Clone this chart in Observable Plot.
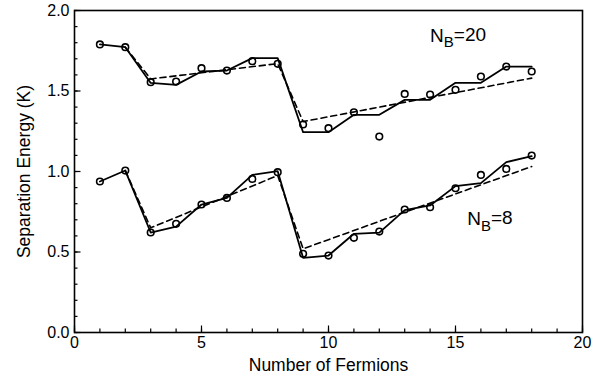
<!DOCTYPE html>
<html><head><meta charset="utf-8">
<script src="https://cdn.jsdelivr.net/npm/d3@7"></script>
<script src="https://cdn.jsdelivr.net/npm/@observablehq/plot@0.6"></script>
<style>body{margin:0;background:#fff}</style>
</head><body><div id="chart"></div>
<script>
const fermions = [1,2,3,4,5,6,7,8,9,10,11,12,13,14,15,16,17,18];
// N_B = 20
const nb20Data = [1.789,1.772,1.555,1.559,1.642,1.627,1.685,1.669,1.292,1.269,1.368,1.217,1.482,1.478,1.507,1.590,1.652,1.621];
const nb20Calc = [1.789,1.772,1.550,1.538,1.621,1.627,1.704,1.704,1.244,1.244,1.352,1.352,1.445,1.445,1.551,1.551,1.652,1.652];
const fitX = [2,3,8,9,18];
const nb20Fit = [1.772,1.575,1.670,1.310,1.580];
// N_B = 8
const nb8Data = [0.938,1.006,0.621,0.675,0.795,0.836,0.954,0.996,0.489,0.478,0.588,0.627,0.764,0.778,0.896,0.979,1.016,1.099];
const nb8Calc = [0.938,1.006,0.621,0.658,0.795,0.836,0.979,1.002,0.464,0.478,0.613,0.620,0.760,0.789,0.909,0.928,1.058,1.095];
const nb8Fit = [1.006,0.650,0.975,0.520,1.031];
// labels
const labelNums = ["20","8"];
const labelX = [14.0,15.46];
const labelY = [1.803,0.665];
const xMajor = [0,5,10,15,20];
const yMajor = [0,0.5,1,1.5,2];
const xTitle = "Number of Fermions";
const yTitle = "Separation Energy (K)";

const pts = fermions.flatMap((f,i)=>[{x:f,y:nb20Data[i],s:"20"},{x:f,y:nb8Data[i],s:"8"}]);
const calc = fermions.flatMap((f,i)=>[{x:f,y:nb20Calc[i],s:"20"},{x:f,y:nb8Calc[i],s:"8"}]);
const fit = fitX.flatMap((f,i)=>[{x:f,y:nb20Fit[i],s:"20"},{x:f,y:nb8Fit[i],s:"8"}]);
const labels = labelNums.map((n,i)=>({x:labelX[i],y:labelY[i],n}));

const font = "'Liberation Sans', Arial, Helvetica, sans-serif";
const chart = Plot.plot({
  width: 599, height: 378,
  marginLeft: 74, marginRight: 17, marginTop: 10, marginBottom: 46,
  style: {fontFamily: font, fontSize: "16px", color: "#000", background: "#fff"},
  x: {domain: [0,20]},
  y: {domain: [0,2]},
  marks: [
    Plot.axisX({ticks: d3.range(0,21), tickSize: -3.5, text: null, label: null, strokeWidth: 1.2}),
    Plot.axisX({ticks: xMajor, tickSize: -6.5, text: null, label: null, strokeWidth: 1.2}),
    Plot.axisX({ticks: xMajor, tickSize: 0, tickPadding: 4, tickFormat: d3.format("d"), fontSize: 16, label: null}),
    Plot.axisY({ticks: d3.range(0,2.01,0.1), tickSize: -3.5, text: null, label: null, strokeWidth: 1.2}),
    Plot.axisY({ticks: yMajor, tickSize: 0, tickPadding: 5, tickFormat: d3.format(".1f"), fontSize: 16, label: null}),
    Plot.axisY({ticks: yMajor, tickSize: -6.5, text: null, label: null, strokeWidth: 1.2}),
    Plot.text([xTitle], {frameAnchor: "bottom", text: d => d, dy: 38, lineAnchor: "bottom", fontSize: 17.5}),
    Plot.text([yTitle], {frameAnchor: "left", text: d => d, dx: -50, rotate: -90, textAnchor: "middle", lineAnchor: "middle", fontSize: 17.5}),
    Plot.frame({stroke: "#000", strokeWidth: 1.6}),
    Plot.line(calc, {x: "x", y: "y", z: "s", stroke: "#000", strokeWidth: 1.8}),
    Plot.line(fit, {x: "x", y: "y", z: "s", stroke: "#000", strokeWidth: 1.6, strokeDasharray: "6,4"}),
    Plot.dot(pts, {x: "x", y: "y", r: 3.3, stroke: "#000", strokeWidth: 1.6, fill: "none"}),
    Plot.text(labels, {x: "x", y: "y", text: "n", textAnchor: "start", lineAnchor: "bottom", fontSize: 19, className: "nb-label"})
  ]
});
document.getElementById("chart").appendChild(chart);
// build subscript: N_B=value
d3.select(chart).selectAll(".nb-label text").each(function(){
  const n = this.textContent;
  const t = d3.select(this);
  t.text(null);
  t.append("tspan").text("N");
  t.append("tspan").attr("font-size", 15).attr("dy", "0.35em").text("B");
  t.append("tspan").attr("dy", "-0.35em").text("=" + n);
});
</script>
</body></html>
